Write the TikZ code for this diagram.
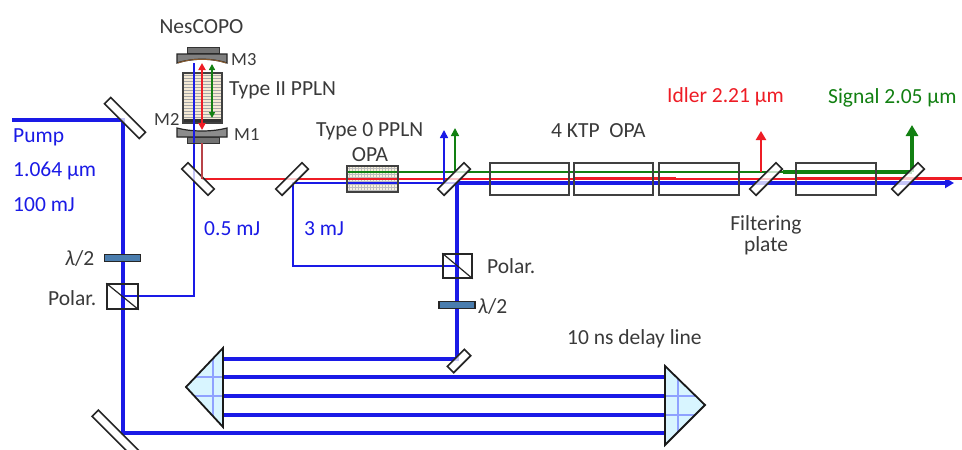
\documentclass[tikz,border=0pt]{standalone}
\usepackage{fontspec}
\setmainfont{Carlito}
\usetikzlibrary{arrows.meta}
\definecolor{bl}{HTML}{1A1AE6}
\definecolor{rd}{HTML}{EE1C25}
\definecolor{gn}{HTML}{128012}
\definecolor{ink}{HTML}{3A3A3A}
\definecolor{wave}{HTML}{4A7DAE}
\definecolor{gridb}{HTML}{8FA2FF}
\definecolor{prismf}{HTML}{D8F5FF}
\tikzset{
  x=1pt,y=-1pt,
  lbl/.style={font=\fontsize{21.5}{21.5}\selectfont,text=ink,inner sep=0pt,anchor=west,yshift=-1pt},
  lblm/.style={lbl,font=\fontsize{18.5}{18.5}\selectfont},
  lblc/.style={lbl,anchor=center},
  thickbeam/.style={bl,line width=3.4pt},
  thinbeam/.style={bl,line width=1.6pt},
  mirr/.style={draw=black!85,line width=1.6pt,fill=white,fill opacity=.75,minimum height=9pt,inner sep=0pt},
  wplate/.style={draw=black!85,line width=1.2pt,fill=wave,minimum width=36pt,minimum height=7.5pt,inner sep=0pt},
  cube/.style={draw=black!85,line width=1.5pt,inner sep=0pt},
  box/.style={draw=black!75,line width=1.5pt},
  up/.style={-{Triangle[length=8pt,width=8pt]}},
}
\begin{document}
\begin{tikzpicture}
\clip (0,0) rectangle (962,450);
\fill[white] (0,0) rectangle (962,450);
% prisms
\fill[prismf] (223,348) -- (186,387) -- (223,427) -- cycle;
\fill[prismf] (665,366) -- (705,405) -- (665,445) -- cycle;
\begin{scope}
\clip (223,348) -- (186,387) -- (223,427) -- cycle;
\draw[gridb,line width=2pt] (213,340) -- (213,435) (180,377) -- (225,377) (180,396) -- (225,396);
\end{scope}
\begin{scope}
\clip (665,366) -- (705,405) -- (665,445) -- cycle;
\draw[gridb,line width=2pt] (678,360) -- (678,450) (660,396) -- (710,396) (660,415) -- (710,415);
\end{scope}
% coordinates
\coordinate (pumpstart) at (12,120);
\coordinate (m1c) at (123,120);
\coordinate (m2c) at (123,433);
\coordinate (pcubeA) at (123,296);
\coordinate (bend05) at (194,296);
\coordinate (top05) at (194,63);
\coordinate (split3) at (293,183);
\coordinate (bend3) at (293,266);
\coordinate (pcubeB) at (457,266);
\coordinate (split4) at (457,183);
\coordinate (dl1) at (457,359);
\coordinate (pr1a) at (223,359);
\coordinate (pr2a) at (665,377);
\coordinate (pr1b) at (223,377);
\coordinate (pr1c) at (223,396);
\coordinate (pr2c) at (665,396);
\coordinate (pr1d) at (223,415);
\coordinate (pr2d) at (665,415);
\coordinate (pr2e) at (665,433);
\coordinate (rstart) at (202,178.5);
\coordinate (rend) at (962,178.5);
\coordinate (gstart) at (347,172);
\coordinate (gthin) at (783,172);
\coordinate (gsig) at (912,172);
\coordinate (btip) at (954,183);
% beams
\draw[thickbeam] (pumpstart) -- (m1c) -- (m2c) -- (pr2e);
\draw[thickbeam] (split4) -- (dl1) -- (pr1a);
\draw[thickbeam] (pr1b) -- (pr2a);
\draw[thickbeam] (pr1c) -- (pr2c);
\draw[thickbeam] (pr1d) -- (pr2d);
\draw[thinbeam] (pcubeA) -- (bend05) -- (top05);
\draw[thinbeam] (pcubeB) -- (bend3) -- (split3) -- (split4);
\draw[thickbeam,-{Triangle[length=9pt,width=10pt]}] (split4) -- (btip);
\draw[rd,line width=2pt] (rstart) -- (rend);
\draw[rd,line width=3pt] (574,178.5) -- (676,178.5);
\draw[rd,line width=3pt] (796,178.5) -- (962,178.5);
\draw[gn,line width=1.6pt] (gstart) -- (gthin);
\draw[gn,line width=3.2pt] (gthin) -- (gsig);
% out arrows
\draw[bl,line width=1.6pt,up] (444,183) -- (444,130);
\draw[gn,line width=1.6pt,up] (455,172) -- (455,128);
\draw[rd,line width=2.4pt,-{Triangle[length=9pt,width=10pt]}] (761,172) -- (761,131);
\draw[gn,line width=3.4pt,-{Triangle[length=11pt,width=12pt]}] (gsig) -- (912,125);
% mirrors
\node[mirr,minimum width=49pt,rotate=-45] (mirA) at (125,118) {};
\node[mirr,minimum width=70pt,rotate=-45] (mirB) at (120,438) {};
\node[mirr,minimum width=37pt,rotate=-45] (mirC) at (198,179) {};
\node[mirr,minimum width=37pt,rotate=45] (mirD) at (292,179) {};
\node[mirr,minimum width=37pt,rotate=45] (mirE) at (454,179) {};
\node[mirr,minimum width=37pt,rotate=45] (mirF) at (766,179) {};
\node[mirr,minimum width=37pt,rotate=45] (mirG) at (908,179) {};
\node[mirr,minimum width=24pt,rotate=45] (mirH) at (459,361) {};
% wave plates, cubes
\node[wplate] (wpA) at (122.5,258) {};
\node[wplate] (wpB) at (457,305) {};
\node[cube,minimum width=31pt,minimum height=25pt] (cubeA) at (122.5,296.5) {};
\draw[black!85,line width=1.2pt] (cubeA.north west) -- (cubeA.south east);
\node[cube,minimum width=29pt,minimum height=24pt] (cubeB) at (457.5,266) {};
\draw[black!85,line width=1.2pt] (cubeB.north west) -- (cubeB.south east);
% prism outlines
\draw[black!90,line width=1.8pt,line join=miter] (223,348) -- (186,387) -- (223,427) -- cycle;
\draw[black!90,line width=1.8pt,line join=miter] (665,366) -- (705,405) -- (665,445) -- cycle;
% OPA crystal
\fill[yellow!35!brown!15] (347,166) rectangle (398,192);
\draw[black!25,line width=.5pt] \foreach \i in {0,...,16} {(349+3*\i,166) -- (349+3*\i,192)} \foreach \j in {0,...,7} {(347,168+3.2*\j) -- (398,168+3.2*\j)};
\draw[rd,line width=2pt] (347,178.5) -- (398,178.5);
\draw[bl,line width=1.6pt] (347,183) -- (398,183);
\draw[gn,line width=1.6pt] (347,172) -- (398,172);
\draw[box] (347,166) rectangle (398,192);
% KTP boxes
\node[box,minimum width=79pt,minimum height=32pt,inner sep=0pt] (k1) at (529.5,179) {};
\node[box,minimum width=79pt,minimum height=32pt,inner sep=0pt] (k2) at (613.5,179) {};
\node[box,minimum width=80pt,minimum height=32pt,inner sep=0pt] (k3) at (699,179) {};
\node[box,minimum width=80pt,minimum height=32pt,inner sep=0pt] (k4) at (836,179) {};
% NesCOPO
\fill[black!55] (187,47) rectangle (219,53);
\draw[black!80,line width=1pt] (187,47) rectangle (219,53);
\draw[black!85,fill=black!50,line width=1.2pt] (177,54) -- (227,54) -- (227,63) .. controls (212,58) and (192,58) .. (177,63) -- cycle;
\draw[brown!70!black,line width=1pt] (178,63) .. controls (192,58) and (212,58) .. (226,63);
\fill[yellow!15!brown!20] (183,73) rectangle (222,123);
\draw[black!35,line width=.6pt] \foreach \j in {0,...,14} {(183,75+3*\j) -- (222,75+3*\j)};
\fill[black!80] (183,118.5) rectangle (222,123);
\draw[black!75,line width=1.4pt] (183,73) rectangle (222,123);
\draw[black!85,fill=black!45,line width=1.2pt] (177,128) .. controls (192,132) and (212,132) .. (227,128) -- (227,137) -- (177,137) -- cycle;
\fill[black!55] (187,137) rectangle (219,143);
\draw[black!80,line width=1pt] (187,137) rectangle (219,143);
\coordinate (cavB) at (194,143);
\coordinate (cavTop) at (202,63);
\coordinate (cavBot) at (202,130);
\coordinate (cavOut) at (202,178.5);
\coordinate (cavG1) at (212,64);
\coordinate (cavG2) at (212,118);
\draw[thinbeam] (top05) -- (cavB);
\draw[rd,line width=2pt,{Triangle[length=7pt,width=7pt]}-{Triangle[length=7pt,width=7pt]}] (cavTop) -- (cavBot);
\draw[rd!70!black!80,line width=2pt] (cavOut) -- (202,143);
\draw[gn,line width=1.5pt,{Triangle[length=6pt,width=6pt]}-{Triangle[length=6pt,width=6pt]}] (cavG1) -- (cavG2);
% labels
\node[lblc] (tNes) at (201.5,26) {NesCOPO};
\node[lblm] (tM3) at (231,59) {M3};
\node[lbl] (tPP2) at (229,89) {Type II PPLN};
\node[lblm] (tM2) at (154,118) {M2};
\node[lblm] (tM1) at (234,134) {M1};
\node[lbl] (tPP0) at (316,130) {Type 0 PPLN};
\node[lblc] (tOPA) at (370,154) {OPA};
\node[lbl] (tKTP) at (551,130) {4 KTP\ \ OPA};
\node[lbl,text=rd] (tIdl) at (667,96) {Idler 2.21 µm};
\node[lbl,text=gn] (tSig) at (828,97) {Signal 2.05 µm};
\node[lblc] (tFil) at (766,224) {Filtering};
\node[lblc] (tPla) at (766,245) {plate};
\node[lbl,text=bl] (tP) at (13,136) {Pump};
\node[lbl,text=bl] (tW) at (13,170) {1.064 µm};
\node[lbl,text=bl] (tE) at (13,204) {100 mJ};
\node[lbl,text=bl] (t05) at (204,228) {0.5 mJ};
\node[lbl,text=bl] (t3) at (304,228) {3 mJ};
\node[lbl] (tPolB) at (487,265) {Polar.};
\node[lbl] (tPolA) at (48,297) {Polar.};
\node[lbl] (tLa) at (65,257) {\textit{λ}/2};
\node[lbl] (tLb) at (478,305) {\textit{λ}/2};
\node[lbl] (tDel) at (567,338) {10 ns delay line};
\end{tikzpicture}
\end{document}
